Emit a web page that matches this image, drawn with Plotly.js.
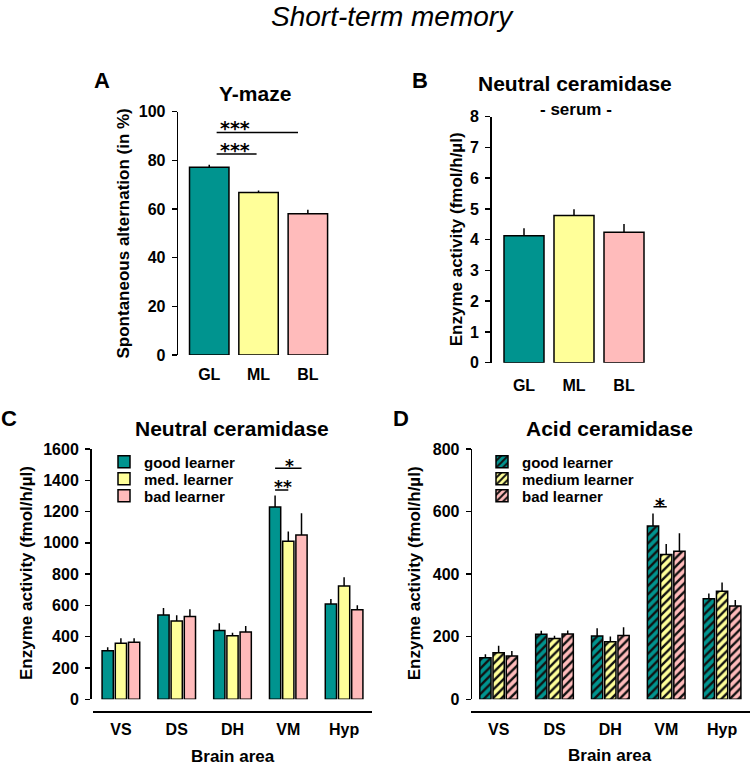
<!DOCTYPE html>
<html>
<head>
<meta charset="utf-8">
<script src="https://cdn.plot.ly/plotly-3.0.1.min.js"></script>
<style>html,body{margin:0;padding:0;background:#fff;}#chart{width:751px;height:769px;}</style>
</head>
<body>
<div id="chart"></div>
<script>
// ---------- data ----------
const groupLabels = ['GL', 'ML', 'BL'];
const ymazeMean = [77.2, 66.8, 58.1];
const ymazeSem = [1.0, 0.8, 1.6];
const serumMean = [4.13, 4.79, 4.24];
const serumSem = [0.24, 0.20, 0.27];

const areas = ['VS', 'DS', 'DH', 'VM', 'Hyp'];
const ncNames = ['good learner', 'med. learner', 'bad learner'];
const ncGood = [311, 539, 439, 1229, 609];
const ncGoodSem = [21, 45, 47, 73, 32];
const ncMed = [358, 501, 407, 1010, 724];
const ncMedSem = [32, 36, 19, 62, 56];
const ncBad = [364, 530, 430, 1050, 573];
const ncBadSem = [26, 45, 39, 139, 28];

const acNames = ['good learner', 'medium learner', 'bad learner'];
const acGood = [133, 208, 202, 554, 321];
const acGoodSem = [11, 11, 25, 40, 17];
const acMed = [149, 194, 184, 463, 345];
const acMedSem = [22, 9, 17, 33, 28];
const acBad = [138, 209, 204, 473, 298];
const acBadSem = [16, 11, 26, 58, 19];

// ---------- styling ----------
const W = 751, H = 769;
const px = v => v / W;
const py = v => 1 - v / H;
const FONT = 'Arial, "Liberation Sans", sans-serif';
const STARFONT = '"DejaVu Sans", sans-serif';
const colors = ['#00948F', '#FFFF99', '#FFBBBB'];

function errY(arr) {
  return {type: 'data', symmetric: false, array: arr, arrayminus: arr.map(() => 0),
          width: 0, thickness: 1.5, color: '#000'};
}

const traces = [];
traces.push({type: 'bar', x: groupLabels, y: ymazeMean, xaxis: 'x', yaxis: 'y', width: 0.8,
  marker: {color: colors, line: {color: '#000', width: 1.5}}, error_y: errY(ymazeSem), showlegend: false});
traces.push({type: 'bar', x: groupLabels, y: serumMean, xaxis: 'x2', yaxis: 'y2', width: 0.8,
  marker: {color: colors, line: {color: '#000', width: 1.5}}, error_y: errY(serumSem), showlegend: false});

const ncSeries = [[ncGood, ncGoodSem], [ncMed, ncMedSem], [ncBad, ncBadSem]];
ncSeries.forEach((s, i) => {
  traces.push({type: 'bar', name: ncNames[i], x: areas, y: s[0], xaxis: 'x3', yaxis: 'y3',
    legend: i === 0 ? 'legend' : 'legend' + (i + 1),
    marker: {color: colors[i], line: {color: '#000', width: 1.5}}, error_y: errY(s[1])});
});
const acSeries = [[acGood, acGoodSem], [acMed, acMedSem], [acBad, acBadSem]];
acSeries.forEach((s, i) => {
  traces.push({type: 'bar', name: acNames[i], x: areas, y: s[0], xaxis: 'x4', yaxis: 'y4',
    legend: 'legend' + (i + 4),
    marker: {color: colors[i], line: {color: '#000', width: 1.5},
      pattern: {shape: '/', bgcolor: colors[i], fgcolor: '#111', size: 6, solidity: 0.4}},
    error_y: errY(s[1])});
});

const tickFont = {family: FONT, size: 16, color: '#000', weight: 'bold'};
function yAx(domain, range, dtick, pos, standoff) {
  return {domain: domain, range: range, dtick: dtick, anchor: 'free', position: pos,
    showline: true, linewidth: 1.5, linecolor: '#000', ticks: 'outside', ticklen: 5, tickwidth: 1.5, tickcolor: '#000',
    showgrid: false, zeroline: false, tickfont: tickFont, ticklabelstandoff: standoff, fixedrange: true};
}
function xAx(domain, range, anchorSpec, showline, standoff) {
  return Object.assign({domain: domain, range: range, type: 'category', showline: showline, linewidth: 1.5,
    linecolor: '#000', ticks: '', showgrid: false, zeroline: false, tickfont: tickFont,
    ticklabelstandoff: standoff, fixedrange: true}, anchorSpec);
}
function leg(x, yTop) {
  return {x: px(x), y: py(yTop), xanchor: 'left', yanchor: 'middle', bgcolor: 'rgba(0,0,0,0)',
    font: {family: FONT, size: 15, color: '#000', weight: 'bold'}, tracegroupgap: 0, itemclick: false};
}

const layout = {
  width: W, height: H,
  margin: {l: 0, r: 0, t: 0, b: 0},
  paper_bgcolor: '#fff', plot_bgcolor: 'rgba(0,0,0,0)',
  font: {family: FONT, color: '#000'},
  barmode: 'group', bargap: 0.29, bargroupgap: 0.15,
  xaxis: xAx([px(176.7), px(340.4)], [-0.66, 2.66], {anchor: 'y'}, false, 8),
  yaxis: yAx([py(355), py(111.7)], [0, 100], 20, px(176.7), 3),
  xaxis2: xAx([px(490), px(658)], [-0.68, 2.68], {anchor: 'y2'}, false, 11),
  yaxis2: yAx([py(362.7), py(116.7)], [0, 8], 1, px(490), 3),
  xaxis3: xAx([px(93), px(372)], [-0.5, 4.5], {anchor: 'free', position: py(711)}, true, 3),
  yaxis3: yAx([py(699.3), py(449)], [0, 1600], 200, px(90), 3),
  xaxis4: xAx([px(470.7), px(750)], [-0.5, 4.5], {anchor: 'free', position: py(711)}, true, 3),
  yaxis4: yAx([py(699.3), py(449)], [0, 800], 200, px(470.7), 3),
  legend: leg(104, 462),
  legend2: leg(104, 479),
  legend3: leg(104, 496),
  legend4: leg(482, 462),
  legend5: leg(482, 479),
  legend6: leg(482, 496),
  shapes: [
    {type: 'line', xref: 'x', yref: 'y', x0: 0.15, x1: 1.8, y0: 91.5, y1: 91.5, line: {color: '#000', width: 1.5}},
    {type: 'line', xref: 'x', yref: 'y', x0: 0.15, x1: 0.96, y0: 82.6, y1: 82.6, line: {color: '#000', width: 1.5}},
    {type: 'line', xref: 'x3', yref: 'y3', x0: 2.763, x1: 3.237, y0: 1477, y1: 1477, line: {color: '#000', width: 1.5}},
    {type: 'line', xref: 'x3', yref: 'y3', x0: 2.763, x1: 3.0, y0: 1338, y1: 1338, line: {color: '#000', width: 1.5}},
    {type: 'line', xref: 'x4', yref: 'y4', x0: 2.772, x1: 3.01, y0: 615.6, y1: 615.6, line: {color: '#000', width: 1.5}}
  ],
  annotations: []
};

function ann(text, x, y, size, opts) {
  return Object.assign({text: text, xref: 'paper', yref: 'paper', x: px(x), y: py(y), xanchor: 'center', yanchor: 'middle',
    showarrow: false, font: {family: FONT, size: size, color: '#000', weight: 'bold'}}, opts || {});
}
const A = layout.annotations;
A.push(ann('Short-term memory', 393, 17, 28, {font: {family: FONT, size: 28, color: '#000', style: 'italic'}}));
A.push(ann('A', 102, 81, 22));
A.push(ann('Y-maze', 255, 93, 21));
A.push(ann('B', 420, 81, 22));
A.push(ann('Neutral ceramidase', 575, 83, 21));
A.push(ann('- serum -', 576, 109, 17));
A.push(ann('C', 9, 418, 22));
A.push(ann('Neutral ceramidase', 232, 428, 21));
A.push(ann('D', 401, 418, 22));
A.push(ann('Acid ceramidase', 609, 428, 21));
A.push(ann('Brain area', 232.7, 756, 17));
A.push(ann('Brain area', 609.7, 755, 17));
A.push(ann('Spontaneous alternation (in %)', 123, 233.5, 17, {textangle: -90}));
A.push(ann('Enzyme activity (fmol/h/µl)', 456, 239.3, 17, {textangle: -90}));
A.push(ann('Enzyme activity (fmol/h/µl)', 26.7, 573.3, 17, {textangle: -90}));
A.push(ann('Enzyme activity (fmol/h/µl)', 414, 573.3, 17, {textangle: -90}));
// significance stars
function star(text, xref, yref, x, y, size) {
  return {text: text, xref: xref, yref: yref, x: x, y: y, xanchor: 'center', yanchor: 'middle', showarrow: false,
    font: {family: STARFONT, size: size, color: '#000', weight: 'bold'}};
}
A.push(star('***', 'x', 'y', 0.53, 93.5, 19));
A.push(star('***', 'x', 'y', 0.53, 84.1, 19));
A.push(star('*', 'x3', 'y3', 3.016, 1492, 17));
A.push(star('**', 'x3', 'y3', 2.909, 1360, 17));
A.push(star('*', 'x4', 'y4', 2.893, 621, 19));

Plotly.newPlot('chart', traces, layout, {staticPlot: true, displayModeBar: false});
</script>
</body>
</html>
